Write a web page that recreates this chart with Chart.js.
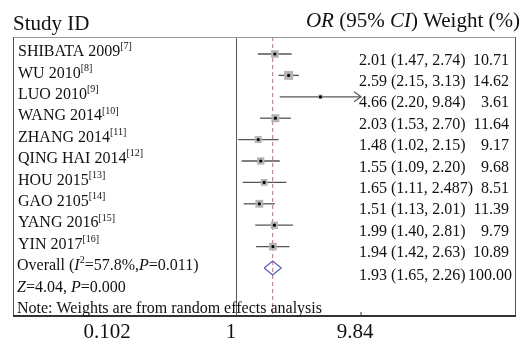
<!DOCTYPE html>
<html>
<head>
<meta charset="utf-8">
<script src="https://cdn.jsdelivr.net/npm/chart.js@4/dist/chart.umd.min.js"></script>
<style>
  html, body { margin: 0; padding: 0; background: #fff; }
  #forest { display: block; }
</style>
</head>
<body>
<canvas id="forest" width="526" height="344"></canvas>
<script>
// ─── Data ───────────────────────────────────────
const studies = ["SHIBATA 2009", "WU 2010", "LUO 2010", "WANG 2014", "ZHANG 2014",
	"QING HAI 2014", "HOU 2015", "GAO 2105", "YANG 2016", "YIN 2017"];
const refs = ["[7]", "[8]", "[9]", "[10]", "[11]", "[12]", "[13]", "[14]", "[15]", "[16]"];
const oddsRatio = [2.01, 2.59, 4.66, 2.03, 1.48, 1.55, 1.65, 1.51, 1.99, 1.94];
const ciLow = [1.47, 2.15, 2.20, 1.53, 1.02, 1.09, 1.11, 1.13, 1.40, 1.42];
const ciHigh = [2.74, 3.13, 9.84, 2.70, 2.15, 2.20, 2.487, 2.01, 2.81, 2.63];
const weights = [10.71, 14.62, 3.61, 11.64, 9.17, 9.68, 8.51, 11.39, 9.79, 10.89];
const overallOR = 1.93;
const overallLow = 1.65;
const overallHigh = 2.26;
const overallWeight = 100.0;
const xTicks = [0.102, 1, 9.84];
const xTickLabels = ["0.102", "1", "9.84"];

// ─── Helpers ────────────────────────────────────
const SERIF = "'Liberation Serif', 'Times New Roman', serif";
const fmt = (v) => {
	const dec = (String(v).split(".")[1] || "").length;
	return v.toFixed(Math.max(2, dec));
};
const yMin = -0.794;
const yMax = 12.243;
const overallRow = studies.length;

// parts: [text, style]  style: "" | "i" | "s" (superscript)
function drawRich(ctx, x, y, parts, size, align) {
	const fontOf = (st) => {
		const sz = st.includes("s") ? Math.round(size * 0.62) : size;
		return `${st.includes("i") ? "italic " : ""}${sz}px ${SERIF}`;
	};
	let total = 0;
	parts.forEach(([t, st]) => {
		ctx.font = fontOf(st);
		total += ctx.measureText(t).width;
	});
	let cx = align === "right" ? x - total : x;
	ctx.textAlign = "left";
	ctx.textBaseline = "middle";
	parts.forEach(([t, st]) => {
		ctx.font = fontOf(st);
		ctx.fillText(t, cx, st.includes("s") ? y - size * 0.33 : y);
		cx += ctx.measureText(t).width;
	});
}

// ─── Text, box and arrows ───────────────────────
const forestText = {
	id: "forestText",
	afterDraw(chart) {
		const { ctx, chartArea: a, scales } = chart;
		const { x, y } = scales;
		ctx.save();

		// frame
		ctx.lineWidth = 1;
		ctx.strokeStyle = "#9a9a9a";
		ctx.beginPath();
		ctx.moveTo(a.left, a.top + 0.5);
		ctx.lineTo(a.right, a.top + 0.5);
		ctx.stroke();
		ctx.strokeStyle = "#555";
		ctx.beginPath();
		ctx.moveTo(a.left + 0.5, a.top);
		ctx.lineTo(a.left + 0.5, a.bottom);
		ctx.moveTo(a.right - 0.5, a.top);
		ctx.lineTo(a.right - 0.5, a.bottom);
		ctx.stroke();
		ctx.lineWidth = 2;
		ctx.strokeStyle = "#333";
		ctx.beginPath();
		ctx.moveTo(a.left, a.bottom);
		ctx.lineTo(a.right, a.bottom);
		ctx.stroke();

		// small tick at the last axis value
		const tx = x.getPixelForValue(xTicks[xTicks.length - 1]);
		ctx.lineWidth = 1;
		ctx.beginPath();
		ctx.moveTo(tx, a.bottom);
		ctx.lineTo(tx, a.bottom - 4);
		ctx.stroke();

		// arrows for CIs running off the axis
		ctx.strokeStyle = "#555";
		ctx.lineWidth = 1.2;
		ciHigh.forEach((h, i) => {
			if (h < xTicks[xTicks.length - 1]) return;
			const px = x.getPixelForValue(h);
			const py = y.getPixelForValue(i);
			ctx.beginPath();
			ctx.moveTo(px - 7, py - 5);
			ctx.lineTo(px, py);
			ctx.lineTo(px - 7, py + 5);
			ctx.stroke();
		});

		ctx.fillStyle = "#111";
		// headers
		drawRich(ctx, 13, 24, [["Study ID", ""]], 21, "left");
		drawRich(ctx, 520, 21, [["OR", "i"], [" (95% ", ""], ["CI", "i"], [") Weight (%)", ""]], 21, "right");

		// study rows
		studies.forEach((s, i) => {
			const py = y.getPixelForValue(i);
			drawRich(ctx, 18, py - 2, [[s, ""], [refs[i], "s"]], 16, "left");
			drawRich(ctx, 359, py + 6.5, [[`${fmt(oddsRatio[i])} (${fmt(ciLow[i])}, ${fmt(ciHigh[i])})`, ""]], 16, "left");
			drawRich(ctx, 509, py + 6.5, [[weights[i].toFixed(2), ""]], 16, "right");
		});

		// overall rows
		const oy = y.getPixelForValue(overallRow);
		drawRich(ctx, 17, oy - 2, [["Overall (", ""], ["I", "i"], ["2", "s"], ["=57.8%,", ""], ["P", "i"], ["=0.011)", ""]], 16, "left");
		drawRich(ctx, 359, oy + 8, [[`${fmt(overallOR)} (${fmt(overallLow)}, ${fmt(overallHigh)})`, ""]], 16, "left");
		drawRich(ctx, 512, oy + 8, [[overallWeight.toFixed(2), ""]], 16, "right");
		drawRich(ctx, 17, y.getPixelForValue(overallRow + 1) - 2, [["Z", "i"], ["=4.04, ", ""], ["P", "i"], ["=0.000", ""]], 16, "left");
		drawRich(ctx, 17, y.getPixelForValue(overallRow + 2) - 2, [["Note: Weights are from random effects analysis", ""]], 16, "left");

		ctx.restore();
	}
};

// ─── Datasets ───────────────────────────────────
const points = oddsRatio.map((v, i) => ({ x: v, y: i }));

const ciLines = studies.map((s, i) => ({
	type: "line",
	label: s,
	data: [{ x: ciLow[i], y: i }, { x: ciHigh[i], y: i }],
	borderColor: "#555",
	borderWidth: 1.3,
	pointRadius: 0,
}));

const diamond = {
	type: "line",
	label: "Overall",
	data: [
		{ x: overallLow, y: overallRow },
		{ x: overallOR, y: overallRow - 0.33 },
		{ x: overallHigh, y: overallRow },
		{ x: overallOR, y: overallRow + 0.33 },
		{ x: overallLow, y: overallRow },
	],
	borderColor: "#5a5ab4",
	borderWidth: 1.2,
	pointRadius: 0,
	tension: 0,
};

const overallLine = {
	type: "line",
	label: "Overall estimate",
	data: [{ x: overallOR, y: yMin }, { x: overallOR, y: yMax }],
	borderColor: "#d4808e",
	borderWidth: 1.2,
	borderDash: [4, 3],
	pointRadius: 0,
};

new Chart(document.getElementById("forest"), {
	type: "scatter",
	data: {
		datasets: [
			{ label: "OR", data: points, pointStyle: "circle", pointRadius: 1.6, backgroundColor: "#000", borderWidth: 0 },
			{
				label: "Weight",
				data: points,
				pointStyle: "rect",
				pointRadius: weights.map((w) => 1.65 * Math.sqrt(w)),
				backgroundColor: "#b4b4b4",
				borderWidth: 0,
			},
			...ciLines,
			diamond,
			overallLine,
		],
	},
	options: {
		responsive: false,
		animation: false,
		layout: { padding: { left: 13, right: 10, top: 37, bottom: 0 } },
		plugins: { legend: { display: false }, tooltip: { enabled: false } },
		scales: {
			x: {
				type: "logarithmic",
				position: "bottom",
				min: 0.0161,
				max: 171.3,
				bounds: "data",
				afterBuildTicks: (s) => {
					s.ticks = xTicks.map((v) => ({ value: v }));
				},
				afterFit: (s) => {
					s.height = 28;
				},
				border: { display: false },
				grid: {
					drawTicks: false,
					lineWidth: 1,
					color: (c) => (c.tick && c.tick.value === 1 ? "#555" : "rgba(0,0,0,0)"),
				},
				ticks: {
					autoSkip: false,
					maxRotation: 0,
					padding: 4,
					labelOffset: -6,
					color: "#111",
					font: { family: SERIF, size: 21 },
					callback: (v, i) => xTickLabels[i],
				},
			},
			y: {
				type: "linear",
				reverse: true,
				min: yMin,
				max: yMax,
				display: false,
			},
		},
	},
	plugins: [forestText],
});
</script>
</body>
</html>
